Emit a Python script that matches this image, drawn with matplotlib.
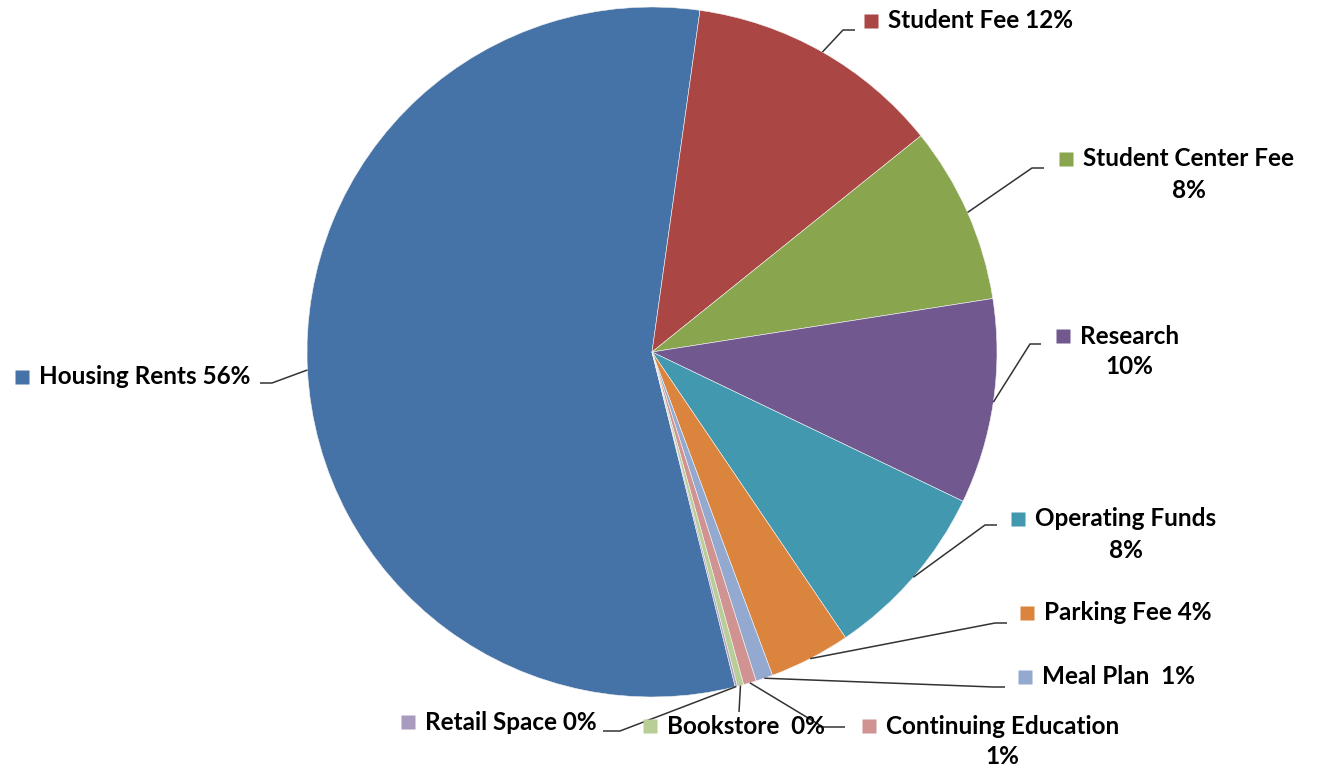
import matplotlib
matplotlib.use("Agg")
import numpy as np
from matplotlib import pyplot as plt

# revenue sources, percent of total
sources = ["Housing Rents", "Student Fee", "Student Center Fee", "Research",
           "Operating Funds", "Parking Fee", "Meal Plan", "Continuing Education",
           "Bookstore", "Retail Space"]
shares = [56.1, 12.0, 8.3, 9.6, 8.4, 3.8, 0.8, 0.6, 0.3, 0.1]
colors = ["#4572A7", "#AA4643", "#89A54E", "#71588F", "#4198AF",
          "#DB843D", "#93A9CF", "#D19392", "#B9CD96", "#A99BBD"]

W, H = 1317, 770
CX, CY, R = 652, 352, 345


def px(x, y):
    # pixel position (from top-left) -> data coords
    return x, H - y


fig = plt.figure(figsize=(W / 100, H / 100), dpi=100)
ax = fig.add_axes([0, 0, 1, 1])
plt.rcParams['font.family'] = ['Lato', 'DejaVu Sans']

# second slice (Student Fee) starts 8 degrees clockwise from 12 o'clock
start = 82 + 3.6 * shares[0]
wedges, _ = ax.pie(shares, colors=colors, startangle=start, counterclock=False,
                   center=px(CX, CY), radius=R,
                   wedgeprops=dict(linewidth=0.4, edgecolor='#f4f4f4'))
ax.set_xlim(0, W)
ax.set_ylim(0, H)
ax.set_aspect('equal')
ax.axis('off')

# label layout: marker position, leader elbow, leader end (pixels)
layout = {
    "Housing Rents":        ((22, 377), (272, 383), (260, 383), False),
    "Student Fee":          ((871, 21), (843, 30), (855, 30), False),
    "Student Center Fee":   ((1066, 159), (1032, 168), (1044, 168), True),
    "Research":             ((1063, 336), (1030, 344), (1041, 344), True),
    "Operating Funds":      ((1018, 519), (985, 525), (997, 525), True),
    "Parking Fee":          ((1027, 613), (995, 623), (1007, 623), False),
    "Meal Plan":            ((1025, 677), (993, 687), (1005, 687), False),
    "Continuing Education": ((869, 726), (823, 727), (845, 727), True),
    "Bookstore":            ((650, 726), (739, 712), (739, 712), False),
    "Retail Space":         ((408, 722), (620, 731), (603, 731), False),
}
spacer = {"Meal Plan": "  ", "Bookstore": "  "}

fs = 17.5
renderer = fig.canvas.get_renderer()
for name, share, color, w in zip(sources, shares, colors, wedges):
    (mx, my), elbow, end, two_lines = layout[name]
    pct = f"{share:.0f}%"

    # leader line from the middle of the slice edge
    mid = np.deg2rad((w.theta1 + w.theta2) / 2)
    sx, sy = w.center[0] + R * np.cos(mid), w.center[1] + R * np.sin(mid)
    ex, ey = px(*elbow)
    tx, ty = px(*end)
    ax.plot([sx, ex, tx], [sy, ey, ty], color='#333333', lw=1.1,
            solid_capstyle='butt', zorder=3)

    ax.plot(*px(mx, my), marker='s', ms=9.5, color=color, mec='none', zorder=4)
    x0 = mx + 17
    if two_lines:
        t = ax.text(*px(x0, my), name, ha='left', va='center',
                    fontsize=fs, fontweight='bold', color='black')
        bb = t.get_window_extent(renderer)
        ax.text((bb.x0 + bb.x1) / 2, H - (my + 31), pct, ha='center',
                va='center', fontsize=fs, fontweight='bold', color='black')
    else:
        sep = spacer.get(name, " ")
        ax.text(*px(x0, my), name + sep + pct, ha='left', va='center',
                fontsize=fs, fontweight='bold', color='black')

fig.savefig("out.png", dpi=100)
